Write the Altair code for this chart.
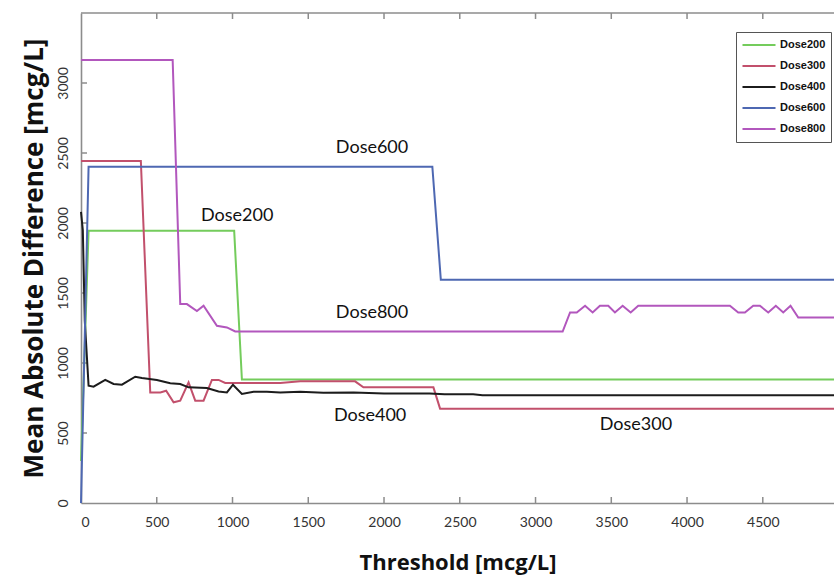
import altair as alt
import pandas as pd

# ---------------- data ----------------
series_names = ["Dose200", "Dose300", "Dose400", "Dose600", "Dose800"]
series_colors = ["#74cc5c", "#c2506c", "#1c1c1c", "#4e68b2", "#b257bd"]

dose200_x = [0, 50, 1011, 1062, 4970]
dose200_y = [300, 1944, 1944, 882, 882]

dose300_x = [0, 395, 457, 524, 562, 611, 655, 710, 754, 809, 864, 908, 952, 1007,
             1315, 1447, 1809, 1864, 2326, 2370, 4970]
dose300_y = [2443, 2443, 790, 790, 802, 719, 731, 862, 731, 731, 879, 879, 857, 857,
             857, 869, 869, 826, 826, 674, 674]

dose400_x = [0, 12, 25, 50, 83, 160, 215, 270, 358, 402, 501, 589, 655, 710, 831,
             908, 963, 1003, 1062, 1139, 1227, 1315, 1447, 1600, 1800, 2000, 2300,
             2400, 2588, 2650, 4970]
dose400_y = [2080, 1950, 1300, 838, 831, 879, 850, 845, 902, 893, 879, 855, 850, 826,
             822, 797, 790, 845, 779, 795, 795, 790, 795, 787, 790, 783, 783, 776,
             776, 770, 770]

dose600_x = [0, 50, 2319, 2375, 4970]
dose600_y = [0, 2402, 2402, 1594, 1594]

dose800_x = [0, 605, 655, 699, 765, 809, 897, 963, 1018, 3179, 3228, 3272, 3327,
             3377, 3425, 3480, 3524, 3575, 3628, 3678, 4283, 4338, 4382, 4437, 4481,
             4536, 4586, 4635, 4683, 4734, 4970]
dose800_y = [3165, 3165, 1421, 1421, 1371, 1409, 1266, 1254, 1225, 1225, 1361, 1361,
             1409, 1361, 1409, 1409, 1361, 1409, 1361, 1409, 1409, 1361, 1361, 1409,
             1409, 1361, 1409, 1361, 1409, 1325, 1325]

label_text = ["Dose600", "Dose200", "Dose800", "Dose400", "Dose300"]
label_x = [1921, 1031, 1921, 1908, 3663]
label_y = [2536, 2051, 1359, 624, 560]

x_tick_values = [0, 500, 1000, 1500, 2000, 2500, 3000, 3500, 4000, 4500]
y_tick_values = [0, 500, 1000, 1500, 2000, 2500, 3000]
x_inner_ticks = [500, 1000, 1500, 2000, 2500, 3000, 3500, 4000, 4500]
y_inner_ticks = [500, 1000, 1500, 2000, 2500, 3000]

x_domain = [0, 4970]
y_domain = [0, 3500]

# ---------------- build table ----------------
rows = []
for name, xs, ys in zip(series_names,
                        [dose200_x, dose300_x, dose400_x, dose600_x, dose800_x],
                        [dose200_y, dose300_y, dose400_y, dose600_y, dose800_y]):
    for i, (xv, yv) in enumerate(zip(xs, ys)):
        rows.append({"series": name, "x": xv, "y": yv, "i": i})
df = pd.DataFrame(rows)
labels_df = pd.DataFrame({"text": label_text, "x": label_x, "y": label_y})
xt_df = pd.DataFrame({"v": x_inner_ticks})
yt_df = pd.DataFrame({"v": y_inner_ticks})

W, H = 753, 490
FRAME = "#8c8c8c"

xscale = alt.Scale(domain=x_domain, nice=False, zero=False)
yscale = alt.Scale(domain=y_domain, nice=False, zero=False)

lines = alt.Chart(df).mark_line(strokeWidth=2).encode(
    x=alt.X("x:Q", scale=xscale,
            axis=alt.Axis(values=x_tick_values, format="d", ticks=False, grid=False,
                          domainColor=FRAME, domainWidth=1.6,
                          labelFont="Lato", labelFontSize=14, labelColor="#333",
                          labelPadding=12, title="Threshold [mcg/L]",
                          titleFont="Open Sans", titleFontSize=22, titleFontWeight="bold",
                          titleColor="#111", titlePadding=23)),
    y=alt.Y("y:Q", scale=yscale,
            axis=alt.Axis(values=y_tick_values, format="d", ticks=False, grid=False,
                          domainColor=FRAME, domainWidth=1.6,
                          labelFont="Lato", labelFontSize=14, labelColor="#333",
                          labelAngle=270, labelAlign="center", labelBaseline="bottom",
                          labelPadding=11, title="Mean Absolute Difference [mcg/L]",
                          titleFont="Open Sans", titleFontSize=26, titleFontWeight="bold",
                          titleColor="#111", titlePadding=9)),
    color=alt.Color("series:N",
                    scale=alt.Scale(domain=series_names, range=series_colors),
                    legend=alt.Legend(title=None, orient="none", legendX=655, legendY=19,
                                      strokeColor="#555", fillColor="white", padding=5,
                                      symbolType="stroke", symbolSize=1090,
                                      symbolStrokeWidth=2, clipHeight=16, rowPadding=5,
                                      labelFont="Liberation Sans", labelFontSize=11,
                                      labelFontWeight="bold", labelColor="#111",
                                      labelOffset=3)),
    order=alt.Order("i:Q"),
)

texts = alt.Chart(labels_df).mark_text(font="Lato", fontSize=18, color="#111",
                                       align="center", baseline="middle").encode(
    x=alt.X("x:Q", scale=xscale), y=alt.Y("y:Q", scale=yscale), text="text:N")

bottom_ticks = alt.Chart(xt_df).mark_rule(color=FRAME, strokeWidth=1.5).encode(
    x=alt.X("v:Q", scale=xscale), y=alt.value(H), y2=alt.value(H - 6))
top_ticks = alt.Chart(xt_df).mark_rule(color=FRAME, strokeWidth=1.5).encode(
    x=alt.X("v:Q", scale=xscale), y=alt.value(0), y2=alt.value(6))
left_ticks = alt.Chart(yt_df).mark_rule(color=FRAME, strokeWidth=1.5).encode(
    y=alt.Y("v:Q", scale=yscale), x=alt.value(0), x2=alt.value(6))
top_frame = alt.Chart(xt_df.head(1)).mark_rule(color=FRAME, strokeWidth=1.6).encode(
    x=alt.value(0), x2=alt.value(W), y=alt.value(0))

chart = alt.layer(top_frame, bottom_ticks, top_ticks, left_ticks, lines, texts).properties(
    width=W, height=H,
    autosize=alt.AutoSizeParams(type="none"),
    padding={"left": 81, "top": 13, "right": 0, "bottom": 72},
    background="white",
).configure_view(stroke=None)

chart.save("out.html", embed_options={"renderer": "svg", "actions": False})
